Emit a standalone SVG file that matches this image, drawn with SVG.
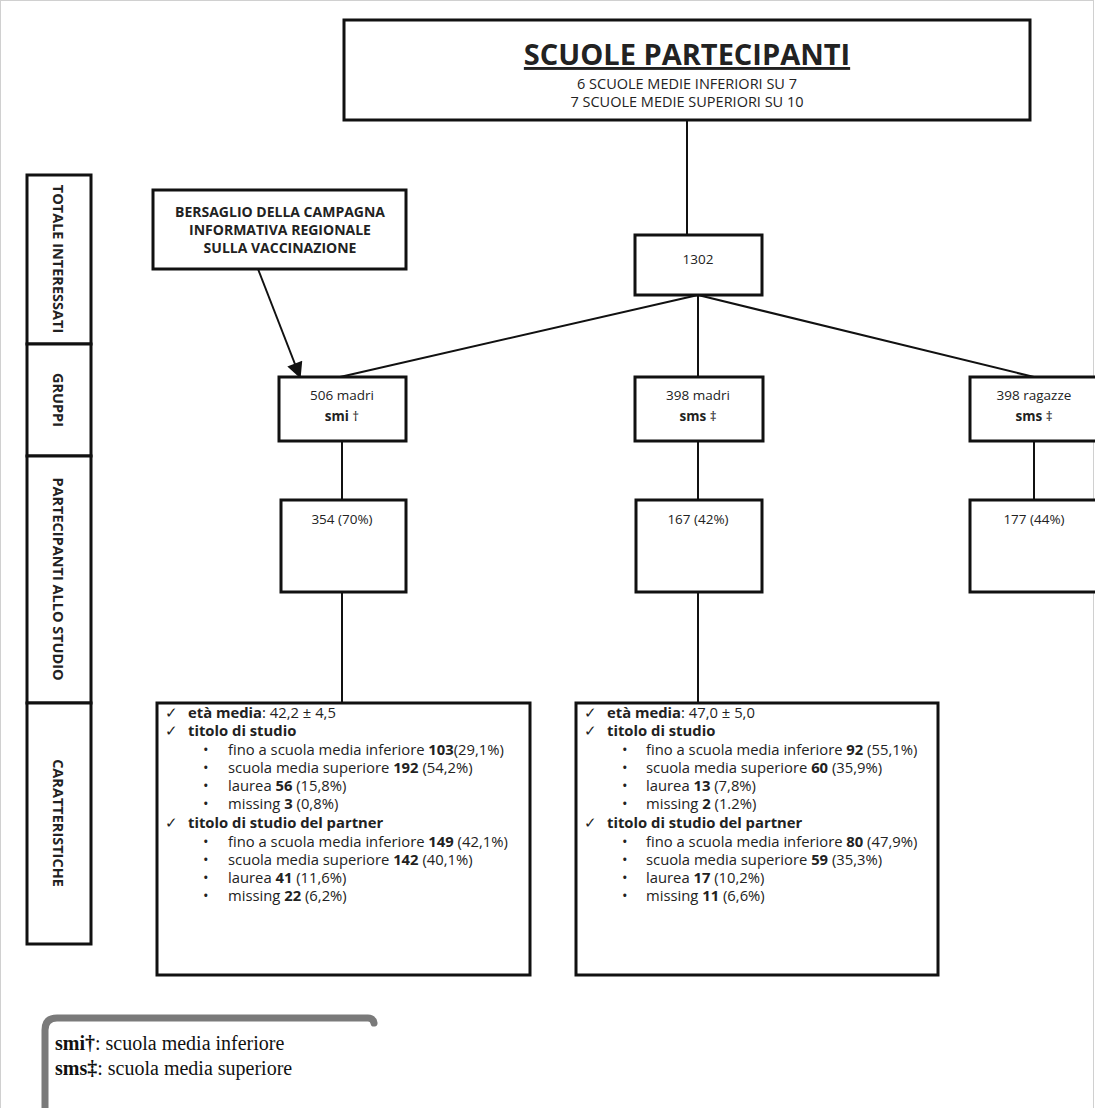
<svg xmlns="http://www.w3.org/2000/svg" width="1095" height="1108" viewBox="0 0 1095 1108">
<defs>
<style>
.box{fill:#fff;stroke:#111;stroke-width:3}
.ln{stroke:#111;stroke-width:2;fill:none}
text{font-family:"Open Sans","Liberation Sans",sans-serif;fill:#222}
.c{text-anchor:middle;font-size:13.5px}
.bc{text-anchor:middle;font-size:14px;font-weight:bold}
.sub{text-anchor:middle;font-size:14.5px}
.b{font-weight:bold}
.side{font-size:14.5px;font-weight:bold;text-anchor:middle}
.t{font-size:14.8px}
.leg{font-family:"Liberation Serif",serif;font-size:20px;fill:#111}
</style>
<marker id="ahb" viewBox="0 0 10 10" refX="9" refY="5" markerWidth="18" markerHeight="16" orient="auto" markerUnits="userSpaceOnUse">
<path d="M0,0 L10,5 L0,10 z" fill="#111"/>
</marker>
</defs>
<rect x="0.5" y="0.5" width="1093" height="1120" fill="#fff" stroke="#d0d0d0" stroke-width="1"/>

<g id="connectors">
<line class="ln" x1="687" y1="120" x2="687" y2="235"/>
<line class="ln" x1="698" y1="295" x2="340" y2="377"/>
<line class="ln" x1="698" y1="295" x2="698" y2="377"/>
<line class="ln" x1="698" y1="295" x2="1034" y2="377"/>
<line class="ln" x1="342" y1="441" x2="342" y2="500"/>
<line class="ln" x1="698" y1="441" x2="698" y2="500"/>
<line class="ln" x1="1034" y1="441" x2="1034" y2="500"/>
<line class="ln" x1="342" y1="592" x2="342" y2="703"/>
<line class="ln" x1="698" y1="592" x2="698" y2="703"/>
<line class="ln" x1="258" y1="269" x2="300" y2="377" marker-end="url(#ahb)"/>
</g>

<g id="side-labels">
<rect class="box" x="27" y="175" width="64" height="169"/>
<rect class="box" x="27" y="344" width="64" height="112"/>
<rect class="box" x="27" y="456" width="64" height="247"/>
<rect class="box" x="27" y="703" width="64" height="241"/>
<text class="side" transform="translate(53,259) rotate(90)">TOTALE INTERESSATI</text>
<text class="side" transform="translate(53,400) rotate(90)">GRUPPI</text>
<text class="side" transform="translate(53,579) rotate(90)">PARTECIPANTI ALLO STUDIO</text>
<text class="side" transform="translate(53,823) rotate(90)">CARATTERISTICHE</text>
</g>

<g id="scuole">
<rect class="box" x="344" y="20" width="686" height="100"/>
<text x="687" y="65" text-anchor="middle" font-size="29" font-weight="bold" text-decoration="underline" fill="#111">SCUOLE PARTECIPANTI</text>
<text class="sub" x="687" y="89">6 SCUOLE MEDIE INFERIORI SU 7</text>
<text class="sub" x="687" y="107">7 SCUOLE MEDIE SUPERIORI SU 10</text>
</g>

<g id="bersaglio">
<rect class="box" x="153" y="190" width="253" height="79"/>
<text class="bc" x="280" y="217">BERSAGLIO DELLA CAMPAGNA</text>
<text class="bc" x="280" y="235">INFORMATIVA REGIONALE</text>
<text class="bc" x="280" y="253">SULLA VACCINAZIONE</text>
</g>

<g id="n1302">
<rect class="box" x="635" y="235" width="127" height="60"/>
<text class="c" x="698" y="264" font-size="15">1302</text>
</g>

<g id="g506">
<rect class="box" x="279" y="377" width="127" height="64"/>
<text class="c" x="342" y="400">506 madri</text>
<text class="c" x="342" y="421"><tspan class="b">smi</tspan> †</text>
</g>
<g id="g398m">
<rect class="box" x="635" y="377" width="128" height="64"/>
<text class="c" x="698" y="400">398 madri</text>
<text class="c" x="698" y="421"><tspan class="b">sms</tspan> ‡</text>
</g>
<g id="g398r">
<rect class="box" x="970" y="377" width="140" height="64"/>
<text class="c" x="1034" y="400">398 ragazze</text>
<text class="c" x="1034" y="421"><tspan class="b">sms</tspan> ‡</text>
</g>

<g id="p354">
<rect class="box" x="281" y="500" width="125" height="92"/>
<text class="c" x="342" y="524">354 (70%)</text>
</g>
<g id="p167">
<rect class="box" x="636" y="500" width="126" height="92"/>
<text class="c" x="698" y="524">167 (42%)</text>
</g>
<g id="p177">
<rect class="box" x="970" y="500" width="140" height="92"/>
<text class="c" x="1034" y="524">177 (44%)</text>
</g>

<g id="car-smi">
<rect class="box" x="157" y="703" width="373" height="272"/>
<g class="t">
<text x="165" y="718">✓</text><text x="188" y="718"><tspan class="b">età media</tspan>: 42,2 ± 4,5</text>
<text x="165" y="736">✓</text><text x="188" y="736" class="b">titolo di studio</text>
<text x="203" y="755">•</text><text x="228" y="755">fino a scuola media inferiore <tspan class="b">103</tspan>(29,1%)</text>
<text x="203" y="773">•</text><text x="228" y="773">scuola media superiore <tspan class="b">192</tspan> (54,2%)</text>
<text x="203" y="791">•</text><text x="228" y="791">laurea <tspan class="b">56</tspan> (15,8%)</text>
<text x="203" y="809">•</text><text x="228" y="809">missing <tspan class="b">3</tspan> (0,8%)</text>
<text x="165" y="828">✓</text><text x="188" y="828" class="b">titolo di studio del partner</text>
<text x="203" y="847">•</text><text x="228" y="847">fino a scuola media inferiore <tspan class="b">149</tspan> (42,1%)</text>
<text x="203" y="865">•</text><text x="228" y="865">scuola media superiore <tspan class="b">142</tspan> (40,1%)</text>
<text x="203" y="883">•</text><text x="228" y="883">laurea <tspan class="b">41</tspan> (11,6%)</text>
<text x="203" y="901">•</text><text x="228" y="901">missing <tspan class="b">22</tspan> (6,2%)</text>
</g>
</g>

<g id="car-sms">
<rect class="box" x="576" y="703" width="362" height="272"/>
<g class="t">
<text x="584" y="718">✓</text><text x="607" y="718"><tspan class="b">età media</tspan>: 47,0 ± 5,0</text>
<text x="584" y="736">✓</text><text x="607" y="736" class="b">titolo di studio</text>
<text x="622" y="755">•</text><text x="646" y="755">fino a scuola media inferiore <tspan class="b">92</tspan> (55,1%)</text>
<text x="622" y="773">•</text><text x="646" y="773">scuola media superiore <tspan class="b">60</tspan> (35,9%)</text>
<text x="622" y="791">•</text><text x="646" y="791">laurea <tspan class="b">13</tspan> (7,8%)</text>
<text x="622" y="809">•</text><text x="646" y="809">missing <tspan class="b">2</tspan> (1.2%)</text>
<text x="584" y="828">✓</text><text x="607" y="828" class="b">titolo di studio del partner</text>
<text x="622" y="847">•</text><text x="646" y="847">fino a scuola media inferiore <tspan class="b">80</tspan> (47,9%)</text>
<text x="622" y="865">•</text><text x="646" y="865">scuola media superiore <tspan class="b">59</tspan> (35,3%)</text>
<text x="622" y="883">•</text><text x="646" y="883">laurea <tspan class="b">17</tspan> (10,2%)</text>
<text x="622" y="901">•</text><text x="646" y="901">missing <tspan class="b">11</tspan> (6,6%)</text>
</g>
</g>

<g id="legenda">
<path d="M45,1120 L45,1030 Q45,1018 57,1018 L368,1018 Q373,1018 374,1023" fill="none" stroke="#7a7a7a" stroke-width="7" stroke-linecap="round"/>
<text class="leg" x="55" y="1050"><tspan font-weight="bold">smi†</tspan>: scuola media inferiore</text>
<text class="leg" x="55" y="1075"><tspan font-weight="bold">sms‡</tspan>: scuola media superiore</text>
</g>
</svg>
